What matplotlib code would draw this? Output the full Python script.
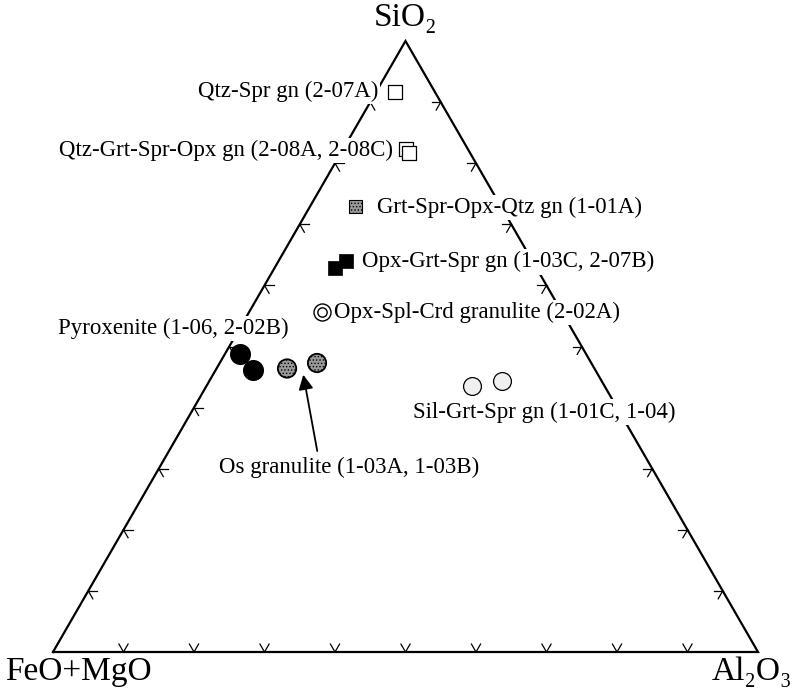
import matplotlib
matplotlib.use("Agg")
import matplotlib.pyplot as plt
import numpy as np

plt.rcParams['font.family'] = ['Liberation Serif', 'DejaVu Serif']
plt.rcParams['hatch.linewidth'] = 0.6

# compositions in percent: SiO2, Al2O3 (FeO+MgO is the rest)
qtz_spr_si = [91.6]
qtz_spr_al = [2.7]
qtz_grt_si = [82.4, 81.7]
qtz_grt_al = [8.9, 9.6]
grt_qtz_si = [72.9]
grt_qtz_al = [6.5]
opx_grt_si = [62.9, 64.0]
opx_grt_al = [8.6, 9.5]
opx_spl_si = [55.7]
opx_spl_al = [10.3]
pyrox_si = [48.7, 46.2]
pyrox_al = [2.2, 5.3]
os_gran_si = [46.4, 47.3]
os_gran_al = [10.0, 13.8]
sil_grt_si = [43.6, 44.4]
sil_grt_al = [37.6, 41.5]

H = np.sqrt(3) / 2


def tern(si, al):
    si = np.asarray(si) / 100.0
    al = np.asarray(al) / 100.0
    return al + si / 2, si * H


fig = plt.figure(figsize=(7.95, 6.92), dpi=100)
ax = fig.add_axes([53 / 795, 40 / 692, 705 / 795, 611 / 692])
ax.set_xlim(0, 1)
ax.set_ylim(0, H)
ax.axis('off')

# triangle outline
ax.plot([0, 1, 0.5, 0], [0, 0, H, 0], color='black', lw=1.6, zorder=1,
        solid_joinstyle='miter', clip_on=False)

# arrow-shaped ticks every 10 %
arm = 0.013
edges = [((0, 0), (1, 0), 90), ((1, 0), (0.5, H), 210), ((0.5, H), (0, 0), -30)]
for (x0, y0), (x1, y1), normal in edges:
    for i in range(1, 10):
        px = x0 + (x1 - x0) * i / 10
        py = y0 + (y1 - y0) * i / 10
        for a in (normal - 30, normal + 30):
            r = np.radians(a)
            ax.plot([px, px + arm * np.cos(r)], [py, py + arm * np.sin(r)],
                    color='black', lw=0.9, zorder=1, clip_on=False)

# samples
x, y = tern(qtz_spr_si, qtz_spr_al)
ax.scatter(x, y, s=110, marker='s', facecolor='white', edgecolor='black', lw=0.9, zorder=5)
x, y = tern(qtz_grt_si, qtz_grt_al)
ax.scatter(x, y, s=110, marker='s', facecolor='white', edgecolor='black', lw=0.9, zorder=5)
x, y = tern(grt_qtz_si, grt_qtz_al)
ax.scatter(x, y, s=85, marker='s', facecolor='#9a9a9a', edgecolor='black', lw=0.8,
           hatch='.....', zorder=5)
x, y = tern(opx_grt_si, opx_grt_al)
ax.scatter(x, y, s=100, marker='s', facecolor='black', edgecolor='black', lw=0.5, zorder=5)
x, y = tern(opx_spl_si, opx_spl_al)
ax.scatter(x, y, s=150, marker='o', facecolor='white', edgecolor='black', lw=1.0, zorder=5)
ax.scatter(x, y, s=45, marker='o', facecolor='white', edgecolor='black', lw=1.0, zorder=6)
x, y = tern(pyrox_si, pyrox_al)
ax.scatter(x, y, s=200, marker='o', facecolor='black', edgecolor='black', zorder=5)
x, y = tern(os_gran_si, os_gran_al)
ax.scatter(x, y, s=175, marker='o', facecolor='#9a9a9a', edgecolor='black', lw=1.3,
           hatch='.....', zorder=5)
x, y = tern(sil_grt_si, sil_grt_al)
ax.scatter(x, y, s=165, marker='o', facecolor='#f0f0f0', edgecolor='black', lw=0.9, zorder=5)

# sample labels, white boxes break the outline behind them
box = dict(facecolor='white', edgecolor='none', pad=1.5)
fs = 16.5
ax.text(0.461, 0.795, 'Qtz-Spr gn (2-07A)', ha='right', va='center', fontsize=fs, bbox=box, zorder=3)
ax.text(0.482, 0.711, 'Qtz-Grt-Spr-Opx gn (2-08A, 2-08C)', ha='right', va='center', fontsize=fs, bbox=box, zorder=3)
ax.text(0.460, 0.630, 'Grt-Spr-Opx-Qtz gn (1-01A)', ha='left', va='center', fontsize=fs, bbox=box, zorder=3)
ax.text(0.438, 0.553, 'Opx-Grt-Spr gn (1-03C, 2-07B)', ha='left', va='center', fontsize=fs, bbox=box, zorder=3)
ax.text(0.399, 0.481, 'Opx-Spl-Crd granulite (2-02A)', ha='left', va='center', fontsize=fs, bbox=box, zorder=3)
ax.text(0.007, 0.459, 'Pyroxenite (1-06, 2-02B)', ha='left', va='center', fontsize=fs, bbox=box, zorder=3)
ax.text(0.511, 0.340, 'Sil-Grt-Spr gn (1-01C, 1-04)', ha='left', va='center', fontsize=fs, bbox=box, zorder=3)

ax.annotate('Os granulite (1-03A, 1-03B)', xy=(0.355, 0.393), xytext=(0.236, 0.262),
            ha='left', va='center', fontsize=fs, zorder=3,
            arrowprops=dict(arrowstyle='-|>', color='black', lw=1.3, mutation_scale=22,
                            relpos=(0.38, 1.0), shrinkA=2, shrinkB=0))

# apex labels
ax.text(0.5, 0.899, 'SiO\u2082', ha='center', va='center', fontsize=24, clip_on=False)
ax.text(-0.068, -0.028, 'FeO+MgO', ha='left', va='center', fontsize=24, clip_on=False)
ax.text(1.048, -0.028, 'Al\u2082O\u2083', ha='right', va='center', fontsize=24, clip_on=False)

fig.savefig('out.png', dpi=100, facecolor='white')
